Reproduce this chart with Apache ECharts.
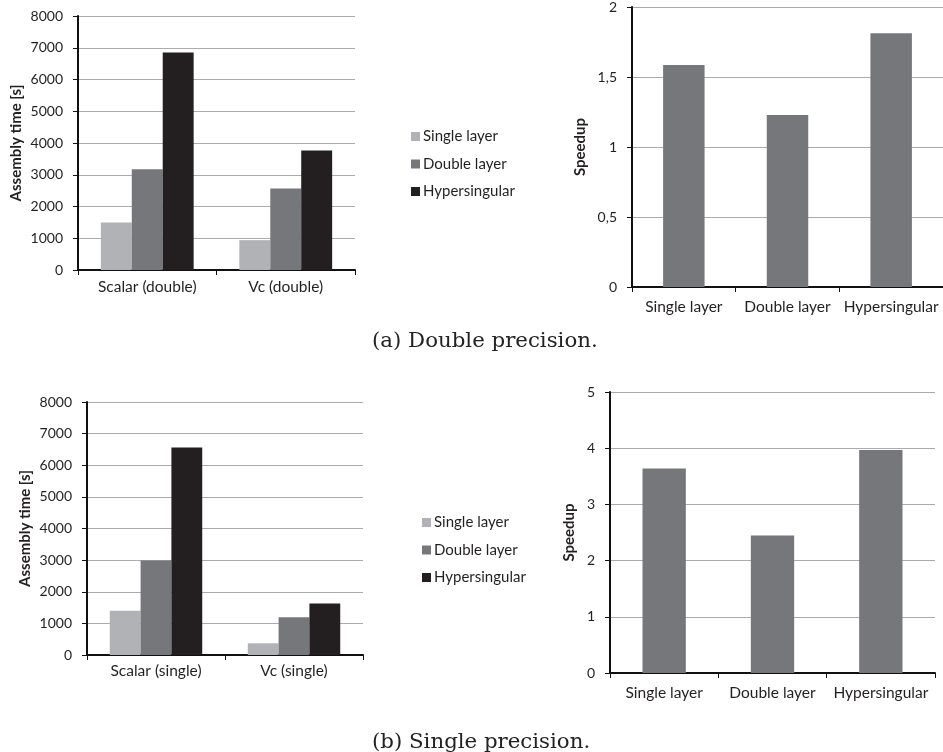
<!DOCTYPE html>
<html>
<head>
<meta charset="utf-8">
<script src="https://cdn.jsdelivr.net/npm/echarts@6/dist/echarts.min.js"></script>
<style>
html,body{margin:0;padding:0;background:#fff;}
#c{width:943px;height:752px;}
</style>
</head>
<body>
<div id="c"></div>
<script>
// ---- data ----
const seriesNames = ['Single layer', 'Double layer', 'Hypersingular'];
const doubleCats = ['Scalar (double)', 'Vc (double)'];
const doubleSingleLayer = [1500, 940];
const doubleDoubleLayer = [3170, 2570];
const doubleHyper = [6850, 3760];
const speedupCats = ['Single layer', 'Double layer', 'Hypersingular'];
const doubleSpeedup = [1.585, 1.228, 1.813];
const singleCats = ['Scalar (single)', 'Vc (single)'];
const singleSingleLayer = [1400, 370];
const singleDoubleLayer = [2990, 1190];
const singleHyper = [6560, 1625];
const singleSpeedup = [3.64, 2.445, 3.97];
const captions = ['(a) Double precision.', '(b) Single precision.'];

const colors = ['#b1b2b5', '#76777b', '#231f20'];
const sans = 'Lato, "DejaVu Sans", sans-serif';
const serif = '"DejaVu Serif", "Liberation Serif", serif';
const txt = '#231f20';

function catAxis(gi, cats, margin) {
  return {
    type: 'category', gridIndex: gi, data: cats,
    axisLine: {lineStyle: {color: '#111', width: 2}},
    axisTick: {show: true, length: 5, lineStyle: {color: '#111', width: 1}},
    axisLabel: {color: txt, fontFamily: sans, fontSize: 15.5, margin: margin, interval: 0}
  };
}
function valAxis(gi, max, interval, name, nameGap, comma) {
  return {
    type: 'value', gridIndex: gi, min: 0, max: max, interval: interval,
    name: name, nameLocation: 'middle', nameRotate: 90, nameGap: nameGap,
    nameTextStyle: {color: txt, fontFamily: sans, fontWeight: 'bold', fontSize: 15},
    axisLine: {show: true, lineStyle: {color: '#111', width: 2}},
    axisTick: {show: true, length: 5, lineStyle: {color: '#111', width: 1}},
    axisLabel: {color: txt, fontFamily: sans, fontSize: 14, margin: 15,
      formatter: v => comma ? String(v).replace('.', ',') : String(v)},
    splitLine: {show: true, lineStyle: {color: '#ababab', width: 1}}
  };
}
function bar(name, data, xi, color, extra) {
  return Object.assign({
    type: 'bar', name: name, data: data, xAxisIndex: xi, yAxisIndex: xi,
    itemStyle: {color: color}, barGap: '0%', barCategoryGap: '33%'
  }, extra || {});
}
const legendText = {color: txt, fontFamily: sans, fontSize: 15, padding: [0, 0, 0, -2]};

const option = {
  animation: false,
  backgroundColor: '#fff',
  title: [
    {text: captions[0], left: 367, top: 326, textStyle: {fontFamily: serif, fontWeight: 'normal', fontSize: 21.3, color: '#222'}},
    {text: captions[1], left: 367, top: 727, textStyle: {fontFamily: serif, fontWeight: 'normal', fontSize: 21.3, color: '#222'}}
  ],
  legend: [
    {data: seriesNames, orient: 'vertical', left: 406, top: 124, itemWidth: 9, itemHeight: 9, itemGap: 12.5, icon: 'rect',
     textStyle: legendText, selectedMode: false},
    {data: seriesNames, orient: 'vertical', left: 417, top: 510, itemWidth: 9, itemHeight: 9, itemGap: 12.5, icon: 'rect',
     textStyle: legendText, selectedMode: false}
  ],
  grid: [
    {left: 78, top: 16, width: 277, height: 254},
    {left: 632, top: 7, width: 311, height: 280},
    {left: 87, top: 402, width: 276, height: 253},
    {left: 610, top: 392, width: 325, height: 281}
  ],
  xAxis: [catAxis(0, doubleCats, 9), catAxis(1, speedupCats, 12), catAxis(2, singleCats, 8), catAxis(3, speedupCats, 12)],
  yAxis: [
    valAxis(0, 8000, 1000, 'Assembly time [s]', 54, false),
    valAxis(1, 2, 0.5, 'Speedup', 44, true),
    valAxis(2, 8000, 1000, 'Assembly time [s]', 54, false),
    valAxis(3, 5, 1, 'Speedup', 33, false)
  ],
  series: [
    bar(seriesNames[0], doubleSingleLayer, 0, colors[0]),
    bar(seriesNames[1], doubleDoubleLayer, 0, colors[1]),
    bar(seriesNames[2], doubleHyper, 0, colors[2]),
    bar('Speedup (double)', doubleSpeedup, 1, colors[1], {barCategoryGap: '60%'}),
    bar(seriesNames[0], singleSingleLayer, 2, colors[0]),
    bar(seriesNames[1], singleDoubleLayer, 2, colors[1]),
    bar(seriesNames[2], singleHyper, 2, colors[2]),
    bar('Speedup (single)', singleSpeedup, 3, colors[1], {barCategoryGap: '60%'})
  ]
};
const chart = echarts.init(document.getElementById('c'), null, {renderer: 'canvas'});
chart.setOption(option);
</script>
</body>
</html>
